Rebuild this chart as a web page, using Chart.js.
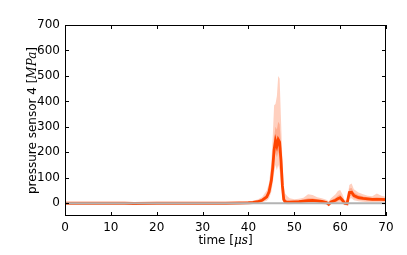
<!DOCTYPE html>
<html>
<head>
<meta charset="utf-8">
<script src="https://cdn.jsdelivr.net/npm/chart.js@4"></script>
<style>
  html, body { margin: 0; padding: 0; background: #fff; }
  #wrap { width: 407px; height: 255px; }
</style>
</head>
<body>
<div id="wrap"><canvas id="chart"></canvas></div>
<script>
// time axis in microseconds
const time = [0, 5, 10, 13, 15, 20, 25, 30, 35, 38, 40, 41, 42, 43, 44, 44.5, 45, 45.3, 45.6, 45.9, 46.2, 46.5, 46.8, 47.1, 47.4, 47.7, 48, 48.5, 49, 50, 51, 52, 53, 54, 55, 56, 57, 57.5, 58, 59, 59.5, 60, 60.5, 61, 61.5, 62, 62.5, 63, 64, 65, 66, 67, 68, 69, 70];

// mean pressure [MPa]
const mean = [0, 0, 0, 0, -1, 0, 0, 0, 0, 1, 2, 3, 6, 12, 25, 45, 90, 140, 210, 245, 225, 250, 240, 170, 70, 15, 6, 4, 4, 5, 6, 8, 10, 11, 9, 7, 3, -4, 5, 12, 18, 22, 12, 0, -2, 42, 43, 30, 22, 19, 17, 15, 15, 15, 14];

// inner band
const innerHi = [1, 1, 1, 1, 0, 1, 1, 1, 1, 2, 4, 6, 10, 18, 35, 60, 120, 180, 260, 300, 290, 320, 310, 230, 110, 35, 15, 10, 10, 10, 12, 15, 20, 20, 16, 13, 8, 2, 12, 22, 30, 35, 22, 6, 5, 58, 60, 42, 32, 27, 24, 22, 24, 22, 20];
const innerLo = [-1, -1, -1, -1, -2, -1, -1, -1, -1, 0, 1, 2, 4, 8, 17, 32, 65, 105, 160, 200, 180, 200, 180, 120, 40, 5, 1, 0, 0, 1, 2, 3, 4, 5, 4, 2, -1, -6, 0, 5, 8, 12, 4, -4, -5, 28, 30, 20, 14, 12, 10, 9, 9, 9, 9];

// outer band (min / max)
const outerHi = [2, 2, 2, 2, 1, 2, 2, 2, 2, 4, 7, 10, 15, 25, 50, 80, 160, 260, 385, 390, 420, 500, 490, 330, 170, 70, 38, 28, 20, 16, 18, 22, 35, 32, 24, 20, 14, 8, 20, 35, 48, 52, 35, 12, 12, 72, 78, 55, 42, 35, 30, 28, 38, 30, 26];
const outerLo = [-2, -2, -2, -2, -3, -2, -2, -2, -2, -1, 0, 0, 1, 4, 10, 20, 45, 80, 120, 150, 130, 150, 130, 80, 20, 0, -3, -4, -4, -3, -2, -1, -1, 0, -1, -3, -6, -10, -4, 0, 2, 5, -2, -8, -8, 18, 20, 12, 8, 6, 4, 4, 4, 4, 4];

const zeroTime = [0, 70];
const zeroLine = [0, 0];

const xTicks = [0, 10, 20, 30, 40, 50, 60, 70];
const yTicks = [0, 100, 200, 300, 400, 500, 600, 700];

const pts = (xs, ys) => xs.map((x, i) => ({ x: x, y: ys[i] }));

const band = 'rgba(255, 69, 0, 0.25)';
const tickFont = { family: 'DejaVu Sans', size: 12 };

// frame, inward ticks on all four sides, axis titles with italic units
const framePlugin = {
  id: 'frame',
  afterDraw(chart) {
    const { ctx, chartArea: a, scales } = chart;
    ctx.save();
    ctx.strokeStyle = '#000';
    ctx.lineWidth = 1;
    ctx.strokeRect(a.left + 0.5, a.top + 0.5, a.right - a.left - 1, a.bottom - a.top - 1);
    ctx.beginPath();
    xTicks.forEach(v => {
      const px = Math.round(scales.x.getPixelForValue(v)) + 0.5;
      ctx.moveTo(px, a.bottom); ctx.lineTo(px, a.bottom - 4);
      ctx.moveTo(px, a.top); ctx.lineTo(px, a.top + 4);
    });
    yTicks.forEach(v => {
      const py = Math.round(scales.y.getPixelForValue(v)) + 0.5;
      ctx.moveTo(a.left, py); ctx.lineTo(a.left + 4, py);
      ctx.moveTo(a.right, py); ctx.lineTo(a.right - 4, py);
    });
    ctx.stroke();

    const plain = '12px "DejaVu Sans"';
    const ital = 'italic 12px "DejaVu Serif"';
    function mixed(parts, cx, cy) {
      let w = 0;
      parts.forEach(p => { ctx.font = p[1]; w += ctx.measureText(p[0]).width; });
      let x = cx - w / 2;
      ctx.fillStyle = '#000';
      ctx.textBaseline = 'alphabetic';
      ctx.textAlign = 'left';
      parts.forEach(p => { ctx.font = p[1]; ctx.fillText(p[0], x, cy); x += ctx.measureText(p[0]).width; });
    }
    mixed([['time [', plain], ['μs', ital], [']', plain]], (a.left + a.right) / 2, 244);
    ctx.translate(36, (a.top + a.bottom) / 2);
    ctx.rotate(-Math.PI / 2);
    mixed([['pressure sensor 4 [', plain], ['MPa', ital], [']', plain]], 0, 0);
    ctx.restore();
  }
};

new Chart(document.getElementById('chart'), {
  type: 'line',
  data: {
    datasets: [
      { data: pts(zeroTime, zeroLine), borderColor: '#b3b3b3', borderWidth: 2, pointRadius: 0, fill: false },
      { data: pts(time, outerHi), borderWidth: 0, pointRadius: 0, backgroundColor: band, fill: '+1' },
      { data: pts(time, outerLo), borderWidth: 0, pointRadius: 0, fill: false },
      { data: pts(time, innerHi), borderWidth: 0, pointRadius: 0, backgroundColor: band, fill: '+1' },
      { data: pts(time, innerLo), borderWidth: 0, pointRadius: 0, fill: false },
      { data: pts(time, mean), borderColor: '#ff4500', borderWidth: 2.8, pointRadius: 0, fill: false }
    ]
  },
  options: {
    responsive: true,
    maintainAspectRatio: false,
    animation: false,
    layout: { padding: { top: 25, right: 21, left: 0, bottom: 0 } },
    plugins: { legend: { display: false }, tooltip: { enabled: false } },
    scales: {
      x: {
        type: 'linear', min: 0, max: 70,
        grid: { display: false, drawTicks: false },
        border: { display: false },
        afterBuildTicks: s => { s.ticks = xTicks.map(v => ({ value: v })); },
        afterFit: s => { s.height = 39; },
        ticks: { font: tickFont, color: '#000', padding: 5, maxRotation: 0 }
      },
      y: {
        min: -50, max: 700,
        grid: { display: false, drawTicks: false },
        border: { display: false },
        afterBuildTicks: s => { s.ticks = yTicks.map(v => ({ value: v })); },
        afterFit: s => { s.width = 65; },
        ticks: { font: tickFont, color: '#000', padding: 5 }
      }
    }
  },
  plugins: [framePlugin]
});
</script>
</body>
</html>
